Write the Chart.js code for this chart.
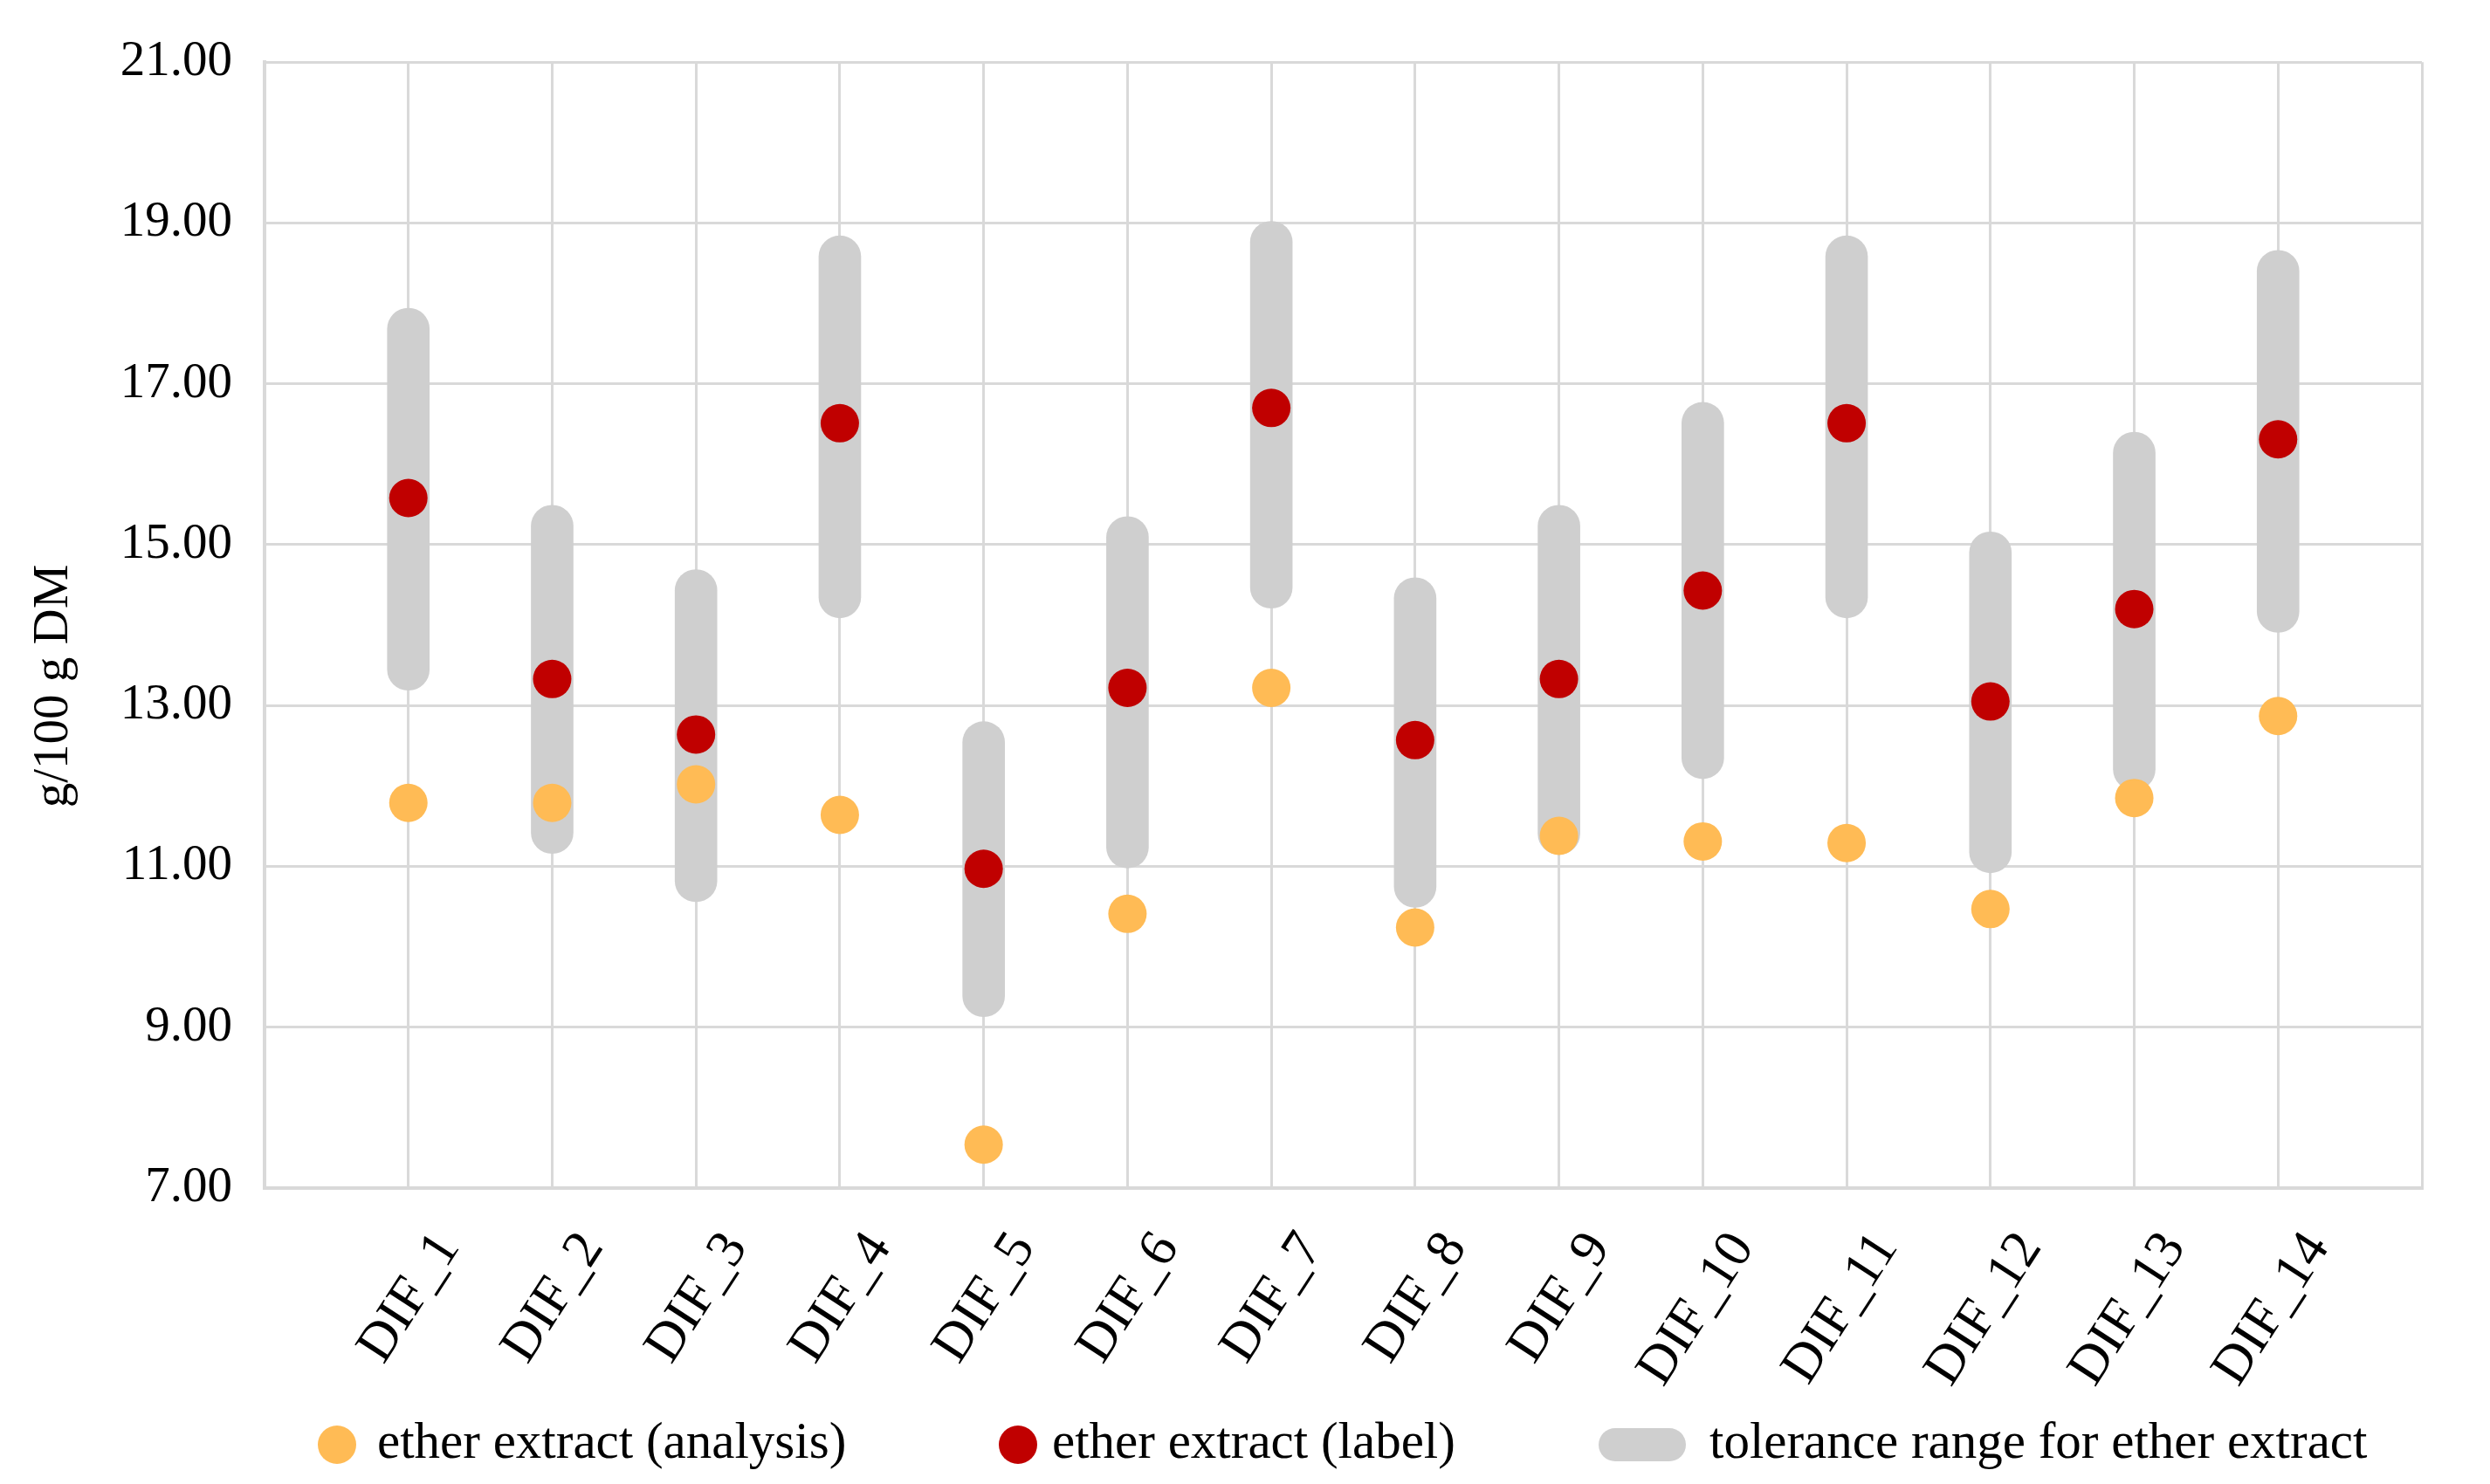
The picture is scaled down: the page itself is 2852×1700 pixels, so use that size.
<!DOCTYPE html>
<html>
<head>
<meta charset="utf-8">
<script src="https://cdn.jsdelivr.net/npm/chart.js@4.4.1/dist/chart.umd.min.js"></script>
<style>
  html, body { margin: 0; padding: 0; background: #ffffff; }
  #wrap { position: relative; width: 2852px; height: 1700px; overflow: hidden; background: #fff; }
  #c { position: absolute; left: 0; top: 0; }
  .lg { position: absolute; font-family: "Liberation Serif", "Times New Roman", serif; font-size: 59px; line-height: 60px; color: #000; white-space: nowrap; }
  .mk { position: absolute; }
</style>
</head>
<body>
<div id="wrap">
  <canvas id="c" width="2852" height="1700"></canvas>
  <div class="mk" style="left:364px;top:1633px;width:44px;height:44px;border-radius:50%;background:#FFBB55;"></div>
  <div class="lg" style="left:432px;top:1620px;">ether extract (analysis)</div>
  <div class="mk" style="left:1144px;top:1633px;width:44px;height:44px;border-radius:50%;background:#C00000;"></div>
  <div class="lg" style="left:1205px;top:1620px;">ether extract (label)</div>
  <div class="mk" style="left:1831px;top:1636px;width:100px;height:38px;border-radius:19px;background:#CFCFCF;"></div>
  <div class="lg" style="left:1958px;top:1620px;">tolerance range for ether extract</div>
</div>
<script>
// ---- data ----
const categories = ['DIF_1','DIF_2','DIF_3','DIF_4','DIF_5','DIF_6','DIF_7','DIF_8','DIF_9','DIF_10','DIF_11','DIF_12','DIF_13','DIF_14'];
const analysisValues = [11.79, 11.79, 12.02, 11.64, 7.54, 10.41, 13.22, 10.24, 11.38, 11.31, 11.29, 10.47, 11.85, 12.87];
const labelValues    = [15.58, 13.33, 12.64, 16.51, 10.97, 13.22, 16.70, 12.57, 13.33, 14.43, 16.51, 13.05, 14.20, 16.31];
const toleranceLow   = [13.19, 11.16, 10.56, 14.09, 9.13, 10.98, 14.21, 10.49, 11.15, 12.09, 14.09, 10.92, 11.95, 13.91];
const toleranceHigh  = [17.94, 15.49, 14.69, 18.84, 12.80, 15.35, 19.02, 14.59, 15.49, 16.77, 18.84, 15.16, 16.40, 18.66];
const yMin = 7, yMax = 21, yStep = 2;
const yTitle = 'g/100 g DM';
const legendLabels = ['ether extract (analysis)', 'ether extract (label)', 'tolerance range for ether extract'];

// padded axis: one empty slot on each side, as in the original
const axisLabels = [''].concat(categories, ['']);
const pad = arr => [null].concat(arr, [null]);
const tolRanges = pad(toleranceLow.map((lo, i) => [lo, toleranceHigh[i]]));

const SERIF = '"Liberation Serif", "Times New Roman", serif';
const GRID = '#d9d9d9';

const yTitlePlugin = {
  id: 'yTitle',
  afterDraw(chart) {
    const ctx = chart.ctx;
    ctx.save();
    ctx.translate(62, 786);
    ctx.rotate(-Math.PI / 2);
    ctx.font = '57px ' + SERIF;
    ctx.fillStyle = '#000';
    ctx.textAlign = 'center';
    ctx.textBaseline = 'middle';
    ctx.fillText(yTitle, 0, 0);
    ctx.restore();
  }
};

new Chart(document.getElementById('c'), {
  type: 'bar',
  data: {
    labels: axisLabels,
    datasets: [
      {
        type: 'line',
        label: legendLabels[1],
        data: pad(labelValues),
        showLine: false,
        pointRadius: 22,
        pointHoverRadius: 22,
        pointBorderWidth: 0,
        pointBackgroundColor: '#C00000',
        borderColor: '#C00000',
        order: 1
      },
      {
        type: 'line',
        label: legendLabels[0],
        data: pad(analysisValues),
        showLine: false,
        pointRadius: 22,
        pointHoverRadius: 22,
        pointBorderWidth: 0,
        pointBackgroundColor: '#FFBB55',
        borderColor: '#FFBB55',
        order: 2
      },
      {
        type: 'bar',
        label: legendLabels[2],
        data: tolRanges,
        backgroundColor: '#CFCFCF',
        barThickness: 48,
        borderRadius: 24,
        borderSkipped: false,
        grouped: false,
        order: 3
      }
    ]
  },
  options: {
    responsive: false,
    animation: false,
    devicePixelRatio: 1,
    events: [],
    layout: { padding: { top: 64, right: 78, left: 0, bottom: 0 } },
    plugins: {
      legend: { display: false },
      tooltip: { enabled: false },
      title: { display: false }
    },
    scales: {
      x: {
        type: 'category',
        offset: false,
        grid: { color: GRID, lineWidth: 3, drawTicks: false, offset: false },
        border: { color: GRID, width: 4 },
        ticks: {
          autoSkip: false,
          minRotation: 57,
          maxRotation: 57,
          padding: 38,
          labelOffset: 46,
          color: '#000',
          font: { family: SERIF, size: 62 }
        },
        afterFit(s) { s.height = 339; s.paddingLeft = 0; s.paddingRight = 0; }
      },
      y: {
        min: yMin,
        max: yMax,
        grid: { color: GRID, lineWidth: 3, drawTicks: false },
        border: { color: GRID, width: 4 },
        ticks: {
          stepSize: yStep,
          padding: 37,
          color: '#000',
          font: { family: SERIF, size: 57 },
          callback: v => Number(v).toFixed(2)
        },
        afterFit(s) { s.width = 303; }
      }
    }
  },
  plugins: [yTitlePlugin]
});
</script>
</body>
</html>
